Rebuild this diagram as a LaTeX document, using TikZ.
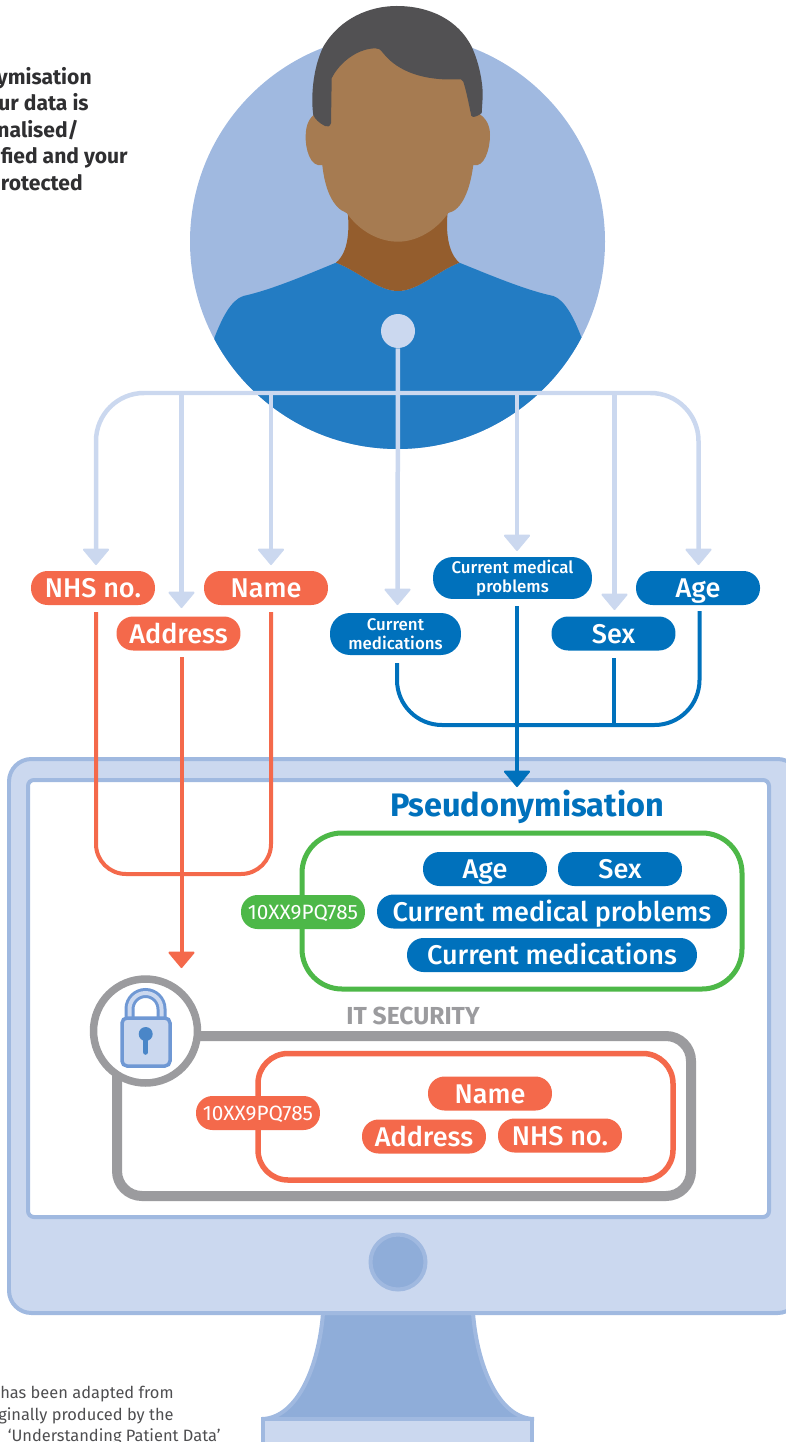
\documentclass[tikz,border=0pt]{standalone}
\usepackage{fontspec}
\setmainfont{Fira Sans}
\newfontfamily\pillfont{Fira Sans Medium}
\usepackage{tikz}
\usetikzlibrary{arrows.meta,shapes.misc}

\definecolor{ringblue}{HTML}{A0B9E0}
\definecolor{paleblue}{HTML}{CBD8EF}
\definecolor{midblue}{HTML}{8FADD9}
\definecolor{shirtblue}{HTML}{237CC3}
\definecolor{pillblue}{HTML}{0071BC}
\definecolor{pillorange}{HTML}{F4694B}
\definecolor{pillgreen}{HTML}{4DB848}
\definecolor{secgrey}{HTML}{9B9B9E}
\definecolor{hairgrey}{HTML}{525153}
\definecolor{skin}{HTML}{A67B51}
\definecolor{neck}{HTML}{945D2D}
\definecolor{lockblue}{HTML}{6F98D4}
\definecolor{keyblue}{HTML}{4A86C8}
\definecolor{inkgrey}{HTML}{2F2F31}

\begin{document}
\begin{tikzpicture}[x=0.02cm,y=-0.02cm, every node/.style={align=center},
    pillbase/.style={rounded corners=0.33cm,text=white,inner sep=0pt,minimum width=2.48cm,minimum height=0.68cm},
    pill/.style={pillbase,text height=0.48cm,text depth=0.1cm,font=\pillfont\fontsize{15.4}{17}\selectfont},
    smallpill/.style={pillbase,rounded corners=0.4cm,minimum height=0.84cm,font=\pillfont\fontsize{9.6}{10.9}\selectfont},
    codepill/.style={pillbase,text height=0.38cm,text depth=0.1cm,font=\fontsize{11.8}{13}\selectfont},
    headtip/.tip={Triangle[length=0.34cm,width=0.56cm,line width=0.04cm,round]},
    feed/.style={draw=paleblue,line width=0.09cm},
    feedtip/.style={feed,-headtip},
    idline/.style={draw=pillorange,line width=0.08cm},
    dataline/.style={draw=pillblue,line width=0.08cm},
    frame/.style={draw=ringblue,line width=0.08cm},
    note/.style={anchor=base east,text=inkgrey,inner sep=0pt,font=\fontsize{12}{14}\selectfont\bfseries},
    credit/.style={anchor=base east,text=inkgrey!85,inner sep=0pt,font=\fontsize{9.35}{11}\selectfont}]

\useasboundingbox (0,0) rectangle (786,1442);
\clip (0,0) rectangle (786,1442);

  % Person
  \fill[ringblue] (397.5,241.5) circle (207.5);
  \begin{scope}
    \clip (397.5,241.5) circle (207.5);
    \fill[shirtblue] (336,262.7) .. controls (360,272) and (378,291) .. (398,291)
      .. controls (418,291) and (436,272) .. (459.3,262.7)
      .. controls (490,275) and (525,290) .. (553.3,296)
      .. controls (565,300) and (574,318) .. (581.7,338) -- (581.7,460) -- (214.3,460) -- (214.3,338)
      .. controls (222,318) and (231,300) .. (243.3,296)
      .. controls (271,290) and (306,275) .. (336,262.7) -- cycle;
  \end{scope}
  \fill[neck] (347,205) .. controls (349,222) and (351,250) .. (336,262.7)
    .. controls (360,272) and (378,291) .. (398,291)
    .. controls (418,291) and (436,272) .. (459.3,262.7)
    .. controls (445,250) and (446,222) .. (448.5,205) -- cycle;
  \fill[skin] (322.3,165) .. controls (310,168) and (305,148) .. (305.7,135)
    .. controls (306,125) and (309,118) .. (316,113) -- (316,70) -- (375,40) -- (478,70) -- (478,113)
    .. controls (486,118) and (490,125) .. (490,135)
    .. controls (490,150) and (484,168) .. (473.3,165)
    .. controls (470,190) and (462,210) .. (448.3,213)
    .. controls (435,232) and (415,241.7) .. (398,241.7)
    .. controls (380,241.7) and (360,232) .. (346.7,213)
    .. controls (333,208) and (325,190) .. (322.3,165) -- cycle;
  \fill[hairgrey] (331,123) .. controls (330,127) and (327,127) .. (325,126)
    .. controls (319,123) and (315,119) .. (313.3,115)
    .. controls (311,100) and (312,70) .. (323.3,46.7)
    .. controls (340,18) and (370,6) .. (396.7,6)
    .. controls (430,6) and (458,20) .. (471.7,46.7)
    .. controls (480,65) and (483,85) .. (482.7,96.7) -- (481.7,113)
    .. controls (478,116) and (475,117) .. (473.3,117)
    .. controls (471,117) and (471,115) .. (470.7,113)
    .. controls (468,100) and (466,90) .. (463.3,81.7)
    .. controls (462,79) and (460,79) .. (458.3,79.3)
    .. controls (425,81) and (398,72) .. (383.3,53.3)
    .. controls (380,49) and (378,48) .. (375,48.3)
    .. controls (355,49) and (338,65) .. (331.7,78.3) -- cycle;

  % Monitor
  \draw[frame,fill=midblue] (323,1313) .. controls (319,1365) and (298,1418) .. (262,1419)
    -- (534,1419) .. controls (498,1418) and (477,1365) .. (473,1313) -- cycle;
  \draw[frame,fill=paleblue] (263,1419) rectangle (532,1460);
  \draw[frame,fill=paleblue,rounded corners=0.45cm] (9,759) rectangle (800,1313);
  \draw[frame,fill=white,rounded corners=0.12cm] (28,780) rectangle (769,1217);
  \node[frame,fill=midblue,circle,minimum size=1.1cm,inner sep=0pt] (button) at (398,1262) {};

  % Data items
  \node[pill,fill=pillorange] (nhs) at (93,588) {NHS no.};
  \node[pill,fill=pillorange] (addr) at (178.5,633.5) {Address};
  \node[pill,fill=pillorange] (name) at (266,588) {Name};
  \node[smallpill,fill=pillblue,minimum width=2.62cm] (meds) at (395.5,634) {Current\\medications};
  \node[smallpill,fill=pillblue,minimum width=3.18cm] (prob) at (512.5,578) {Current medical\\problems};
  \node[pill,fill=pillblue] (sex) at (613.5,633.5) {Sex};
  \node[pill,fill=pillblue] (age) at (698,588) {Age};

  % Feeds from the person
  \coordinate (nhsin) at (96,565);
  \coordinate (addrin) at (181.5,608);
  \coordinate (namein) at (271,565);
  \coordinate (medsin) at (397.5,605);
  \coordinate (probin) at (517,551);
  \coordinate (sexin) at (614.5,610);
  \coordinate (agein) at (698.5,565);
  \node[fill=paleblue,circle,minimum size=0.68cm,inner sep=0pt] (dot) at (398,331) {};
  \coordinate (bus) at (398,393);
  \draw[feed,headtip-headtip,rounded corners=0.96cm] (nhsin) |- (bus) -| (agein);
  \draw[feedtip] (dot) -- (medsin);
  \draw[feedtip] (bus -| addrin) -- (addrin);
  \draw[feedtip] (bus -| namein) -- (namein);
  \draw[feedtip] (bus -| probin) -- (probin);
  \draw[feedtip] (bus -| sexin) -- (sexin);

  % Screen
  \node[text=pillblue,inner sep=0pt,font=\fontsize{18.5}{20}\selectfont\bfseries] (title) at (527,807) {Pseudonymisation};
  \node[text=secgrey,inner sep=0pt,font=\fontsize{14}{16}\selectfont\bfseries] (itsec) at (413,1015.5) {IT SECURITY};

  % Identifiers
  \coordinate (nhsfoot) at (96,612);
  \coordinate (namefoot) at (271,612);
  \coordinate (addrfoot) at (181.5,657);
  \coordinate (idbase) at (183,874);
  \coordinate (lockin) at (181.5,968);
  \draw[idline,rounded corners=0.6cm] (nhsfoot) |- (idbase) -| (namefoot);
  \draw[idline,-headtip] (addrfoot) -- (lockin);

  % Health data
  \coordinate (medsfoot) at (397,663);
  \coordinate (sexfoot) at (613.5,658);
  \coordinate (agefoot) at (699.5,611);
  \coordinate (probfoot) at (517,606);
  \coordinate (database) at (517,725);
  \coordinate (titlein) at (517,787);
  \draw[dataline,rounded corners=0.9cm] (medsfoot) |- (database) -| (agefoot);
  \draw[dataline] (sexfoot) -- (sexfoot |- database);
  \draw[dataline,-headtip] (probfoot) -- (titlein);

  % Pseudonymised record
  \draw[draw=pillgreen,line width=0.1cm,rounded corners=0.8cm] (302,833) rectangle (742,989);
  \node[pill,fill=pillblue] (gage) at (485,869) {Age};
  \node[pill,fill=pillblue] (gsex) at (620,869) {Sex};
  \node[pill,fill=pillblue,minimum width=7cm] (gprob) at (552,911.5) {Current medical problems};
  \node[pill,fill=pillblue,minimum width=5.8cm] (gmeds) at (552,955) {Current medications};
  \node[codepill,fill=pillgreen] (gcode) at (303,912) {10XX9PQ785};

  % Secured record
  \draw[draw=secgrey,line width=0.2cm,rounded corners=0.5cm] (117,1036) rectangle (691,1196);
  \draw[draw=pillorange,line width=0.11cm,rounded corners=0.6cm] (258,1053.5) rectangle (673,1180);
  \node[pill,fill=pillorange] (sname) at (490,1093.5) {Name};
  \node[pill,fill=pillorange] (saddr) at (424,1136.5) {Address};
  \node[pill,fill=pillorange] (snhs) at (560,1135.5) {NHS no.};
  \node[codepill,fill=pillorange] (scode) at (258,1113) {10XX9PQ785};

  % Lock
  \node[draw=secgrey,fill=white,line width=0.15cm,circle,minimum size=2.08cm,inner sep=0pt] (lock) at (145.5,1031) {};
  \draw[lockblue,line width=0.2cm] (129.5,1022) -- (129.5,1009) arc[start angle=180,end angle=360,radius=16] -- (161.5,1022);
  \draw[paleblue,line width=0.08cm] (129.5,1022) -- (129.5,1009) arc[start angle=180,end angle=360,radius=16] -- (161.5,1022);
  \draw[lockblue,fill=paleblue,line width=0.07cm,rounded corners=0.1cm] (122,1018) rectangle (170,1066);
  \fill[keyblue] (145.7,1034) circle (7);
  \draw[keyblue,line width=0.11cm,line cap=round] (145.7,1036) -- (145.7,1052);

  % Side note, cut off by the page edge
  \foreach \x/\y/\t in {92/85/ymisation,89/111/ur data is,79/138/{nalised/},128/164/fied and your,83/191/rotected}
    \node[note] at (\x,\y) {\t};

  % Credit, cut off by the page edge
  \foreach \x/\y/\t in {174/1398/has been adapted from,174/1420/ginally produced by the,221/1441/‘Understanding Patient Data’}
    \node[credit] at (\x,\y) {\t};

\end{tikzpicture}
\end{document}
